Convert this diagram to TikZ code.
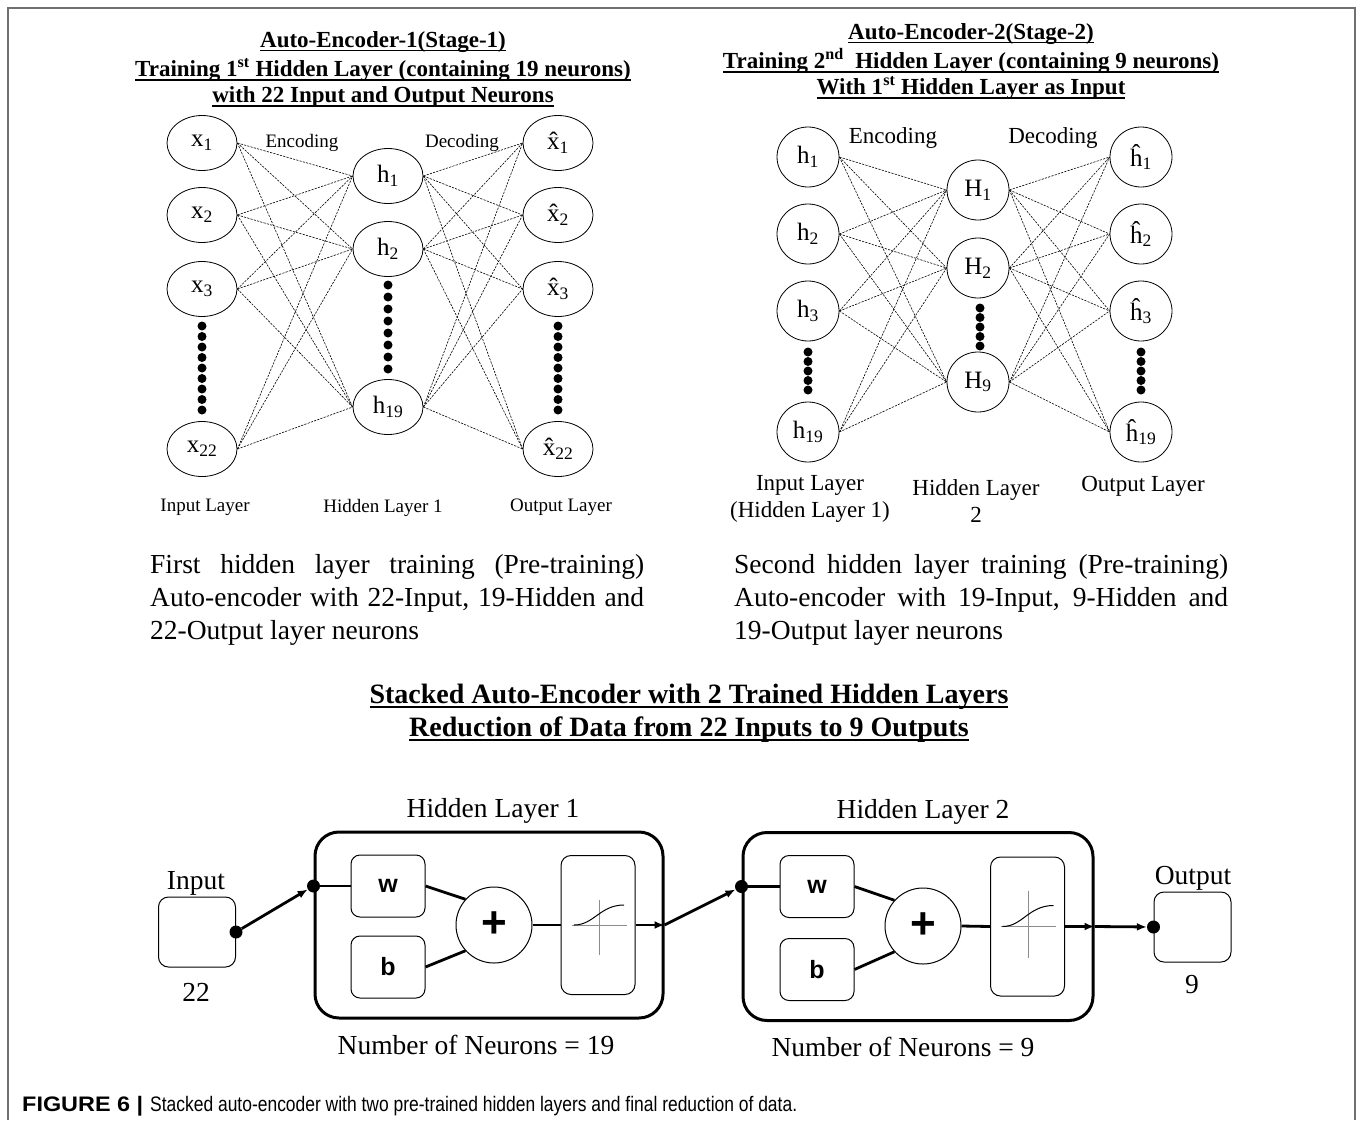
\documentclass[tikz,border=0pt]{standalone}
\usepackage{fontspec}
\usepackage{graphicx}
\setmainfont{Liberation Serif}
\setsansfont{Liberation Sans}
\newfontfamily\capfont{Liberation Sans}
\usetikzlibrary{shapes.geometric,arrows.meta}
\newsavebox\myulbox
\newcommand\myul[1]{\sbox\myulbox{#1}\rlap{\rule[-4pt]{\wd\myulbox}{1.6pt}}\usebox\myulbox}
\definecolor{framegray}{HTML}{707070}
\tikzset{
 ell/.style={draw, ellipse, minimum width=70pt, minimum height=55pt, inner sep=0pt, line width=0.8pt, font=\fontsize{25}{25}\selectfont},
 circ/.style={draw, ellipse, minimum width=62pt, minimum height=60pt, inner sep=0pt, line width=0.8pt, font=\fontsize{25}{25}\selectfont},
 conn/.style={line width=0.6pt, dash pattern=on 2.2pt off 1.2pt},
 dotc/.style={circle, fill=black, minimum size=9pt, inner sep=0pt},
 ttl/.style={font=\bfseries\fontsize{23}{23}\selectfont, inner sep=0pt},
 ttlb/.style={font=\bfseries\fontsize{28}{28}\selectfont, inner sep=0pt},
 lblA/.style={font=\fontsize{19}{19}\selectfont, inner sep=0pt},
 lblB/.style={font=\fontsize{23}{27}\selectfont, inner sep=0pt, align=center},
 lblC/.style={font=\fontsize{27.5}{28}\selectfont, inner sep=0pt},
 para/.style={anchor=north west, inner sep=0pt, text width=494pt, align=justify, font=\fontsize{27.5}{33}\selectfont},
 iobox/.style={draw, rectangle, rounded corners=10pt, line width=1pt, minimum width=77pt, minimum height=70pt},
 wbox/.style={draw, rectangle, rounded corners=9pt, line width=1pt, minimum width=74pt, minimum height=62pt, inner sep=0pt, font=\sffamily\bfseries\fontsize{25}{25}\selectfont},
 sigbox/.style={draw, rectangle, rounded corners=10pt, line width=1pt, minimum width=74pt, minimum height=139pt, inner sep=0pt},
 plusc/.style={draw, circle, minimum size=76pt, inner sep=0pt, line width=1pt, font=\sffamily\bfseries\fontsize{44}{44}\selectfont},
 bigbox/.style={draw, rectangle, rounded corners=24pt, line width=3pt, inner sep=0pt},
 dotb/.style={circle, fill=black, minimum size=13pt, inner sep=0pt},
 thk/.style={line width=2.8pt},
 arr/.style={line width=2.8pt, -{Latex[length=10pt,width=8pt]}},
 axisl/.style={black!45, line width=0.8pt},
}
\begin{document}
\begin{tikzpicture}[x=1pt,y=-1pt]
\useasboundingbox (0,0) rectangle (1360,1120);
\draw[framegray, line width=2pt] (8,1120) -- (8,8) -- (1355,8) -- (1355,1120);

% ---------- Auto-encoder 1 ----------
\node[ttl] (t1a) at (383,42) {\myul{Auto-Encoder-1(Stage-1)}};
\node[ttl] (t1b) at (383,70) {\myul{Training 1\textsuperscript{st} Hidden Layer (containing 19 neurons)}};
\node[ttl] (t1c) at (383,97) {\myul{with 22 Input and Output Neurons}};

\foreach \i/\y in {1/143,2/215,3/289,22/449} {
  \node[ell] (a\i) at (202,\y) {x\textsubscript{\i}};
  \node[ell] (ao\i) at (558,\y) {\^{x}\textsubscript{\i}};
}
\foreach \j/\y in {1/176,2/249,19/407}
  \node[ell] (ah\j) at (388,\y) {h\textsubscript{\j}};

\foreach \i in {1,2,3,22} \foreach \j in {1,2,19}
  \draw[conn] (a\i.east) -- (ah\j.west);
\foreach \j in {1,2,19} \foreach \k in {1,2,3,22}
  \draw[conn] (ah\j.east) -- (ao\k.west);

\foreach \k in {0,...,8} {
  \node[dotc] (ad\k) at (202,{326+\k*10.5}) {};
  \node[dotc] (od\k) at (558,{326+\k*10.5}) {};
}
\foreach \k in {0,...,7}
  \node[dotc] (hd\k) at (388,{285+\k*12}) {};
\node[lblA] (enc1) at (302,143) {Encoding};
\node[lblA] (dec1) at (462,143) {Decoding};
\node[lblA] (il1) at (205,507) {Input Layer};
\node[lblA] (hl1l) at (383,508) {Hidden Layer 1};
\node[lblA] (ol1) at (561,507) {Output Layer};

% ---------- Auto-encoder 2 ----------
\node[ttl] (t2a) at (971,34) {\myul{Auto-Encoder-2(Stage-2)}};
\node[ttl] (t2b) at (971,61) {\myul{Training 2\textsuperscript{nd}\ \ Hidden Layer (containing 9 neurons)}};
\node[ttl] (t2c) at (971,88) {\myul{With 1\textsuperscript{st} Hidden Layer as Input}};

\foreach \i/\y in {1/157,2/234,3/311,19/432} {
  \node[circ] (b\i) at (808,\y) {h\textsubscript{\i}};
  \node[circ] (bo\i) at (1141,\y) {\^{h}\textsubscript{\i}};
}
\foreach \j/\y in {1/190,2/268,9/382}
  \node[circ] (bH\j) at (978,\y) {H\textsubscript{\j}};

\foreach \i in {1,2,3,19} \foreach \j in {1,2,9}
  \draw[conn] (b\i.east) -- (bH\j.west);
\foreach \j in {1,2,9} \foreach \k in {1,2,3,19}
  \draw[conn] (bH\j.east) -- (bo\k.west);

\foreach \k in {0,...,4} {
  \node[dotc] (bd\k) at (808,{352+\k*9.5}) {};
  \node[dotc] (Hd\k) at (980,{308+\k*9.5}) {};
  \node[dotc] (bod\k) at (1141,{352+\k*9.5}) {};
}
\node[lblB] (enc2) at (893,138) {Encoding};
\node[lblB] (dec2) at (1053,138) {Decoding};
\node[lblB] (il2) at (810,499) {Input Layer\\(Hidden Layer 1)};
\node[lblB] (hl2l) at (976,501) {Hidden Layer\\2};
\node[lblB] (ol2) at (1143,486) {Output Layer};

% ---------- paragraphs ----------
\node[para] (p1txt) at (150,554) {\tolerance=10000\hbadness=10000\noindent First hidden layer training (Pre-training)\linebreak Auto-encoder with 22-Input, 19-Hidden and\linebreak 22-Output layer neurons};
\node[para] (p2txt) at (734,554) {\tolerance=10000\hbadness=10000\noindent Second hidden layer training (Pre-training)\linebreak Auto-encoder with 19-Input, 9-Hidden and\linebreak 19-Output layer neurons};

\node[ttlb] (st1) at (689,697) {\myul{Stacked Auto-Encoder with 2 Trained Hidden Layers}};
\node[ttlb] (st2) at (689,730) {\myul{Reduction of Data from 22 Inputs to 9 Outputs}};

% ---------- stacked network ----------
\node[bigbox, minimum width=348pt, minimum height=186pt] (hl1) at (489,925) {};
\node[bigbox, minimum width=350pt, minimum height=188pt] (hl2) at (918,926.5) {};

\node[iobox] (in) at (197,932) {};
\node[iobox] (out) at (1192.5,927) {};
\node[lblC] (inl) at (196,883) {Input};
\node[lblC] (in22) at (196,992) {22};
\node[lblC] (outl) at (1193,878) {Output};
\node[lblC] (out9) at (1192,985) {9};

\node[wbox] (w1) at (388,886) {w};
\node[wbox] (b1x) at (388,967) {b};
\node[plusc] (pl1) at (494,925) {+};
\node[sigbox] (s1) at (598,925) {};
\node[lblC] (hl1t) at (493,811) {Hidden Layer 1};
\node[lblC] (n1) at (476,1045) {Number of Neurons = 19};

\node[wbox] (w2) at (817,886.5) {w};
\node[wbox] (b2x) at (817,969.5) {b};
\node[plusc] (pl2) at (923,926) {+};
\node[sigbox] (s2) at (1027.5,926.5) {};
\node[lblC] (hl2t) at (923,812) {Hidden Layer 2};
\node[lblC] (n2) at (903,1047) {Number of Neurons = 9};

\begin{scope}[shift={(s1.center)}]
  \draw[axisl] (-26,0) -- (29,0) (1,-25) -- (1,30);
  \draw[line width=1pt] (-24,0) .. controls (-4,0) and (2,-20) .. (26,-20);
\end{scope}
\begin{scope}[shift={(s2.center)}]
  \draw[axisl] (-27,0) -- (28,0) (0.5,-36) -- (0.5,31);
  \draw[line width=1pt] (-25,0) .. controls (-5,0) and (1,-21) .. (26,-21);
\end{scope}

\node[dotb] (d0) at (in.east) {};
\node[dotb] (d1) at (hl1.west |- w1.west) {};
\node[dotb] (d2) at (hl2.west |- w2.west) {};
\node[dotb] (d3) at (out.west) {};

\draw[arr] (d0) -- (d1);
\draw[thk] (d1) -- (w1.west);
\draw[thk] (w1.east) -- (pl1.138);
\draw[thk] (b1x.east) -- (pl1.222);
\draw[thk] (pl1.east) -- (s1.west);
\draw[arr] (s1.east) -- (hl1.east);
\draw[arr] (hl1.east) -- (d2);
\draw[thk] (d2) -- (w2.west);
\draw[thk] (w2.east) -- (pl2.138);
\draw[thk] (b2x.east) -- (pl2.222);
\draw[thk] (pl2.east) -- (s2.west);
\draw[arr] (s2.east) -- (hl2.east);
\draw[arr] (hl2.east) -- (d3);

% ---------- caption ----------
\node[anchor=base west, inner sep=0pt] (cap) at (22,1111) {\capfont\fontsize{21}{23}\selectfont\resizebox{121pt}{\height}{\bfseries FIGURE 6 |}\hspace{7pt}\resizebox{647pt}{\height}{Stacked auto-encoder with two pre-trained hidden layers and final reduction of data.}};
\end{tikzpicture}
\end{document}
